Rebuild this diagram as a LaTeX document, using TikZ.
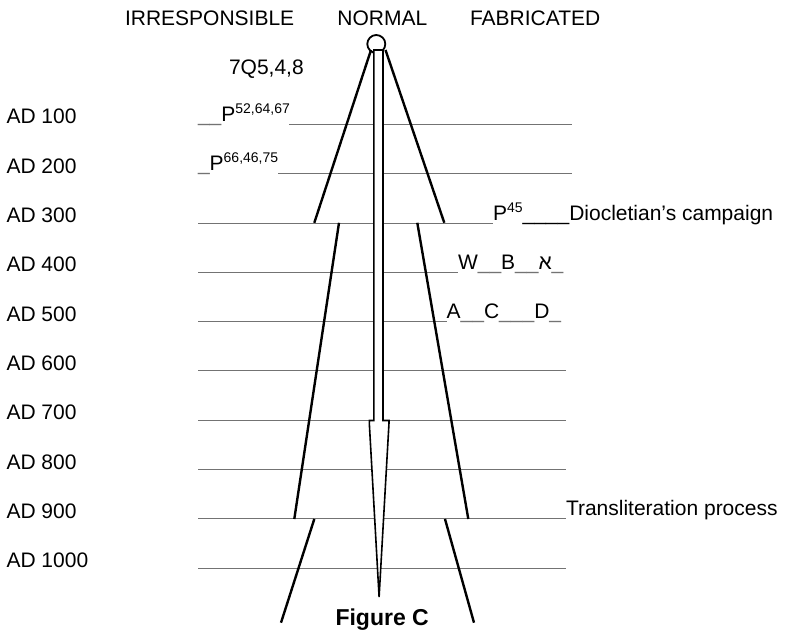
\documentclass[tikz,border=0pt]{standalone}
\usepackage{fontspec}
\setmainfont{Liberation Sans}
\TeXXeTstate=1
\newcommand\spx[1]{\raisebox{8pt}{\fontsize{14}{14}\selectfont #1}}
\newcommand\gus[1]{{\color{black!55}#1}}
\begin{document}
\begin{tikzpicture}[x=1pt,y=-1pt,font=\fontsize{21}{25}\selectfont,
  txt/.style={anchor=base west,inner sep=0pt,outer sep=0pt},
  rowline/.style={draw=black!55,line width=1pt},
  coneline/.style={draw=black,line width=2.4pt},
  stemline/.style={draw=black,line width=1.6pt,fill=white,line join=miter}]
\useasboundingbox (0,0) rectangle (785,632);
% headers
\node[txt] (hirr) at (125,25) {IRRESPONSIBLE};
\node[txt] (hnor) at (337.4,25) {NORMAL};
\node[txt] (hfab) at (470,25) {FABRICATED};
\node[txt] (q7) at (229,74) {7Q5,4,8};
% AD labels
\foreach \i/\lab in {1/100,2/200,3/300,4/400,5/500,6/600,7/700,8/800,9/900,10/1000}{
  \pgfmathsetmacro\yy{124.3+49.33*(\i-1)-0.5}
  \node[txt] (ad\i) at (6.5,\yy) {AD \lab};
}
% row texts
\node[txt] (r1) at (198,121.3) {\gus{\_\_}P\spx{52,64,67}};
\node[txt] (r2) at (198,170.6) {\gus{\_}P\spx{66,46,75}};
\node[txt] (r3) at (493,220.0) {P\spx{45}\_\_\_\_Diocletian’s campaign};
\node[txt] (r4) at (458,269.3) {W\gus{\_\_}B\gus{\_\_}\beginR א\endR\gus{\_}};
\node[txt] (r5) at (446.7,318.6) {A\gus{\_\_}C\gus{\_\_\_}D\gus{\_}};
\node[txt] (r9) at (566,515.9) {Transliteration process};
% row lines
\coordinate (l1a) at (289,124.3);   \coordinate (l1b) at (572,124.3);
\coordinate (l2a) at (278,173.6);   \coordinate (l2b) at (572,173.6);
\coordinate (l3a) at (198,223.0);   \coordinate (l3b) at (493,223.0);
\coordinate (l4a) at (198,272.3);   \coordinate (l4b) at (458,272.3);
\coordinate (l5a) at (198,321.6);   \coordinate (l5b) at (446.7,321.6);
\draw[rowline] (l1a) -- (l1b);
\draw[rowline] (l2a) -- (l2b);
\draw[rowline] (l3a) -- (l3b);
\draw[rowline] (l4a) -- (l4b);
\draw[rowline] (l5a) -- (l5b);
\foreach \i in {6,7,8,9,10}{
  \pgfmathsetmacro\yy{124.3+49.33*(\i-1)}
  \draw[rowline] (198,\yy) -- (566,\yy);
}
% circle and stem
\draw[line width=1.8pt] (376.3,44) circle (9);
\draw[stemline] (373.8,50) -- (373.8,420.5) -- (369.3,420.5) -- (369.3,423) -- (379.1,597)
  -- (389,423) -- (389,420.5) -- (383.0,420.5) -- (383.0,50) -- cycle;
% cone lines
\draw[coneline] (371,50) -- (314.3,222.8);
\draw[coneline] (385.5,50) -- (444.3,222.8);
\draw[coneline] (339,222.8) -- (294.3,519);
\draw[coneline] (417.3,222.8) -- (468.3,519);
\draw[coneline] (314.3,519) -- (281,622.7);
\draw[coneline] (445,519) -- (474,622.7);
% caption
\node[txt,font=\fontsize{23}{27}\selectfont\bfseries] (cap) at (335.5,625.7) {Figure C};
\end{tikzpicture}
\end{document}
